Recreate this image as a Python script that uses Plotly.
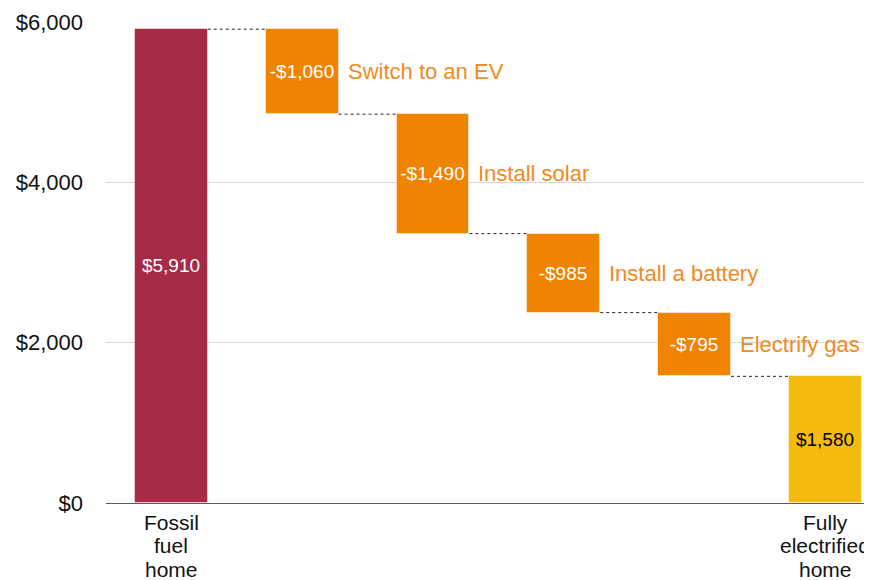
import plotly.graph_objects as go

categories = ["Fossil<br>fuel<br>home", "Switch to an EV", "Install solar",
              "Install a battery", "Electrify gas", "Fully<br>electrified<br>home"]
start_value = 5910
changes = [-1060, -1490, -985, -795]
end_value = 1580
value_labels = ["$5,910", "-$1,060", "-$1,490", "-$985", "-$795", "$1,580"]
step_names = ["Switch to an EV", "Install solar", "Install a battery", "Electrify gas"]
axis_labels = ["Fossil<br>fuel<br>home", "", "", "", "", "Fully<br>electrified<br>home"]
y_ticks = [0, 2000, 4000, 6000]
y_tick_text = ["$0", "$2,000", "$4,000", "$6,000"]

FONT = "Arial, Liberation Sans, sans-serif"
CRIMSON = "#A62B47"
ORANGE = "#F08400"
YELLOW = "#F5BC10"
TEXT_ORANGE = "#F18A1C"
BAR_W = 0.556

# compute bases / heights
x_pos = list(range(len(categories)))
heights = [start_value]
bases = [0]
level = start_value
for c in changes:
    new_level = level + c
    heights.append(-c)
    bases.append(new_level)
    level = new_level
heights.append(end_value)
bases.append(0)
colors = [CRIMSON] + [ORANGE] * len(changes) + [YELLOW]
text_colors = ["white"] * (len(categories) - 1) + ["black"]

fig = go.Figure()
fig.add_trace(go.Bar(
    x=x_pos, y=heights, base=bases, width=BAR_W,
    marker=dict(color=colors, line=dict(color="rgba(255,255,255,0.5)", width=1)),
    text=value_labels, textposition="inside", insidetextanchor="middle",
    textangle=0, constraintext="none",
    textfont=dict(family=FONT, size=19, color=text_colors),
    hoverinfo="skip", showlegend=False,
))

# connector levels: top of each next floating bar
levels = [start_value]
lv = start_value
for c in changes:
    lv += c
    levels.append(lv)
for i, lv in enumerate(levels):
    fig.add_trace(go.Scatter(
        x=[i + BAR_W / 2, i + 1 - BAR_W / 2], y=[lv, lv], mode="lines",
        line=dict(color="#222222", width=1, dash="dot"),
        hoverinfo="skip", showlegend=False,
    ))

annotations = []
for j, name in enumerate(step_names):
    i = j + 1
    mid = bases[i] + heights[i] / 2
    annotations.append(dict(
        x=i + BAR_W / 2, y=mid, xref="x", yref="y", text=name,
        xanchor="left", yanchor="middle", xshift=7, showarrow=False,
        font=dict(family=FONT, size=22, color=TEXT_ORANGE),
    ))

for i, lab in enumerate(axis_labels):
    if not lab:
        continue
    for k, line in enumerate(lab.split("<br>")):
        annotations.append(dict(
            x=i, y=0, xref="x", yref="y", text=line,
            xanchor="center", yanchor="middle", yshift=-19 - 23.5 * k,
            showarrow=False, font=dict(family=FONT, size=21, color="#111111"),
        ))

# page body has an 8px default margin, so the figure is shrunk/offset accordingly
fig.update_layout(
    width=864, height=572,
    margin=dict(l=98, r=0, t=13, b=77, autoexpand=False),
    paper_bgcolor="white", plot_bgcolor="white",
    bargap=0, annotations=annotations,
    xaxis=dict(range=[-0.5, 5.356], showticklabels=False, showgrid=False,
               zeroline=False, showline=True, linecolor="#595959", linewidth=1,
               fixedrange=True, automargin=False),
    yaxis=dict(range=[0, 6012], tickvals=y_ticks, ticktext=y_tick_text,
               showgrid=True, gridcolor="#D9D9D9", gridwidth=1, zeroline=False,
               showline=False, ticks="", ticklabelstandoff=22, automargin=False,
               tickfont=dict(family=FONT, size=22, color="#111111"),
               fixedrange=True),
)

fig.write_html("out.html")
